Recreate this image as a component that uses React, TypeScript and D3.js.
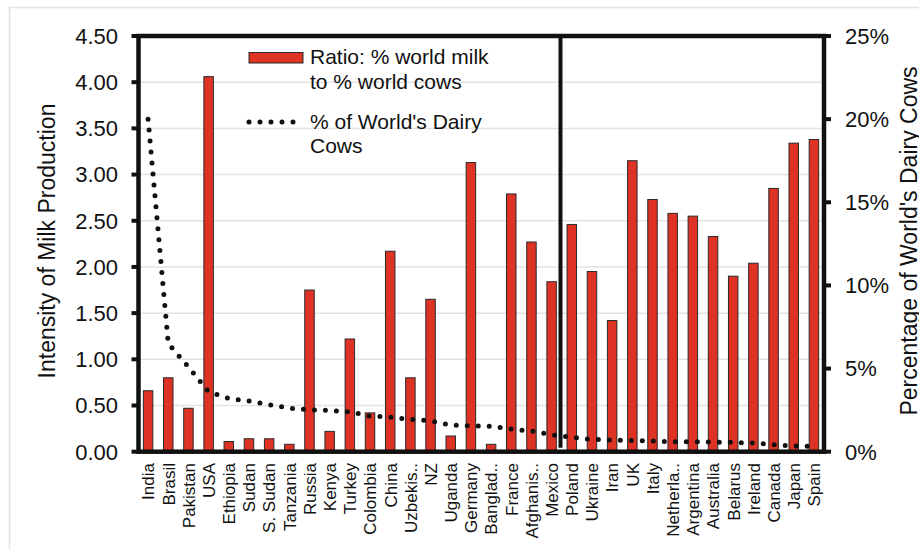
import React from "react";
import * as d3 from "d3";

const countries = [
  "India", "Brasil", "Pakistan", "USA", "Ethiopia", "Sudan", "S. Sudan", "Tanzania",
  "Russia", "Kenya", "Turkey", "Colombia", "China", "Uzbekis..", "NZ", "Uganda",
  "Germany", "Banglad..", "France", "Afghanis..", "Mexico", "Poland", "Ukraine", "Iran",
  "UK", "Italy", "Netherla..", "Argentina", "Australia", "Belarus", "Ireland", "Canada",
  "Japan", "Spain",
];

const ratioValues = [
  0.66, 0.80, 0.47, 4.06, 0.11, 0.14, 0.14, 0.08,
  1.75, 0.22, 1.22, 0.42, 2.17, 0.80, 1.65, 0.17,
  3.13, 0.08, 2.79, 2.27, 1.84, 2.46, 1.95, 1.42,
  3.15, 2.73, 2.58, 2.55, 2.33, 1.90, 2.04, 2.85,
  3.34, 3.38,
];

const cowShare = [
  20.0, 6.5, 5.1, 3.6, 3.2, 3.05, 2.82, 2.62,
  2.52, 2.48, 2.4, 2.14, 2.08, 1.94, 1.86, 1.6,
  1.56, 1.52, 1.36, 1.24, 1.02, 0.86, 0.74, 0.70,
  0.68, 0.64, 0.60, 0.60, 0.58, 0.56, 0.52, 0.42,
  0.34, 0.32,
];

const leftTicks = [0, 0.5, 1, 1.5, 2, 2.5, 3, 3.5, 4, 4.5];
const rightTicks = [0, 5, 10, 15, 20, 25];
const dividerAfter = "Mexico";

const W = 919;
const H = 549;
const plot = { left: 138.5, right: 824, top: 36, bottom: 451.7 };
const FONT = "'Liberation Sans', Arial, Helvetica, sans-serif";
const RED = "#dd3224";

export default function App() {
  const x = d3.scaleBand<string>().domain(countries).range([plot.left - 0.5, plot.right]).paddingInner(0.53).paddingOuter(0.265);
  const band = d3.scaleBand<string>().domain(countries).range([plot.left - 0.5, plot.right]);
  const yL = d3.scaleLinear().domain([0, 4.5]).range([plot.bottom, plot.top]);
  const yR = d3.scaleLinear().domain([0, 25]).range([plot.bottom, plot.top]);

  const line = d3
    .line<number>()
    .x((_, i) => (band(countries[i]) as number) + band.bandwidth() / 2)
    .y((d) => yR(d));

  const divX = (band(dividerAfter) as number) + band.bandwidth() * 0.94;

  return (
    <svg
      width={W}
      height={H}
      style={{ position: "absolute", left: 0, top: 0, background: "#fff" }}
      fontFamily={FONT}
    >
      <rect x={9.5} y={7.5} width={1200} height={1200} fill="none" stroke="#e2e2e2" strokeWidth={1.5} />

      {/* grid */}
      {leftTicks.filter((t) => t > 0 && t < 4.5).map((t) => (
        <line key={t} x1={plot.left} x2={plot.right} y1={yL(t)} y2={yL(t)} stroke="#e3e3e3" strokeWidth={1.5} />
      ))}

      {/* bars */}
      {ratioValues.map((v, i) => (
        <rect
          key={countries[i]}
          x={x(countries[i])}
          y={yL(v)}
          width={x.bandwidth()}
          height={yL(0) - yL(v)}
          fill={RED}
          stroke="#2a2a2a"
          strokeWidth={1}
        />
      ))}

      {/* divider */}
      <line x1={divX} x2={divX} y1={plot.top} y2={yL(0) - 4} stroke="#111" strokeWidth={4} />

      {/* dotted line */}
      <path
        d={line(cowShare) || ""}
        fill="none"
        stroke="#111"
        strokeWidth={5}
        strokeLinecap="round"
        strokeDasharray="0 11"
      />

      {/* frame */}
      <rect
        x={plot.left}
        y={plot.top}
        width={plot.right - plot.left}
        height={plot.bottom - plot.top}
        fill="none"
        stroke="#111"
        strokeWidth={4.5}
      />

      {/* left ticks */}
      {leftTicks.map((t) => (
        <g key={t}>
          <line x1={plot.left - 7} x2={plot.left} y1={yL(t)} y2={yL(t)} stroke="#111" strokeWidth={4} />
          <text x={118} y={yL(t)} dy="0.36em" textAnchor="end" fontSize={22} fill="#111">
            {t.toFixed(2)}
          </text>
        </g>
      ))}

      {/* right ticks */}
      {rightTicks.map((t) => (
        <g key={t}>
          <line x1={plot.right} x2={plot.right + 7} y1={yR(t)} y2={yR(t)} stroke="#111" strokeWidth={4} />
          <text x={845} y={yR(t)} dy="0.36em" textAnchor="start" fontSize={22} fill="#111">
            {t + "%"}
          </text>
        </g>
      ))}

      {/* x labels */}
      {countries.map((c) => {
        const cx = (band(c) as number) + band.bandwidth() / 2;
        return (
          <text
            key={c}
            transform={`translate(${cx},${463}) rotate(-90)`}
            dy="0.37em"
            textAnchor="end"
            fontSize={17}
            fill="#111"
          >
            {c}
          </text>
        );
      })}

      {/* axis titles */}
      <text transform={`translate(55,241) rotate(-90)`} textAnchor="middle" fontSize={23} fill="#111">
        Intensity of Milk Production
      </text>
      <text transform={`translate(917,241) rotate(-90)`} textAnchor="middle" fontSize={23} fill="#111">
        Percentage of World's Dairy Cows
      </text>

      {/* legend */}
      <rect x={249} y={52.5} width={54} height={10.5} fill={RED} stroke="#2a2a2a" strokeWidth={1} />
      <text x={310} y={64} fontSize={21} fill="#111">Ratio: % world milk</text>
      <text x={310} y={89} fontSize={21} fill="#111">to % world cows</text>
      <line x1={249} x2={296} y1={122} y2={122} stroke="#111" strokeWidth={5} strokeLinecap="round" strokeDasharray="0 11" />
      <text x={310} y={129} fontSize={21} fill="#111">% of World's Dairy</text>
      <text x={310} y={153} fontSize={21} fill="#111">Cows</text>
    </svg>
  );
}
